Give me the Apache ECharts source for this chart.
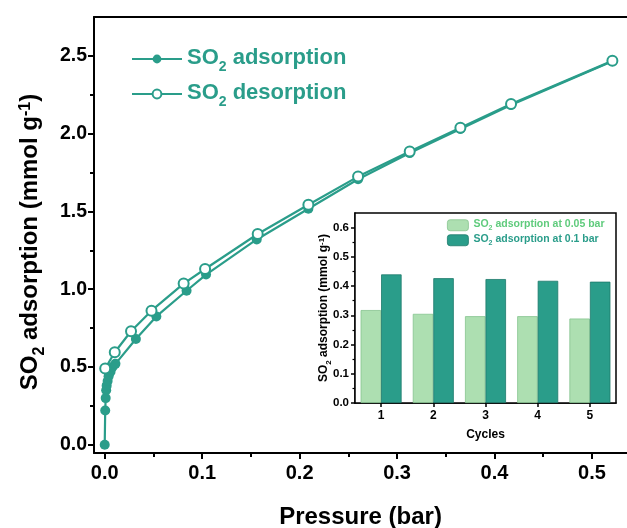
<!DOCTYPE html>
<html>
<head>
<meta charset="utf-8">
<script src="https://cdn.jsdelivr.net/npm/echarts@6/dist/echarts.min.js"></script>
<style>html,body{margin:0;padding:0;background:#fff}#c{width:627px;height:528px}</style>
</head>
<body>
<div id="c"></div>
<script>
// ---- data ----
const pressureAds = [0, 0.0005, 0.001, 0.0015, 0.002, 0.003, 0.004, 0.006, 0.008, 0.011, 0.032, 0.053, 0.084, 0.104, 0.156, 0.209, 0.260, 0.313, 0.365, 0.417, 0.521];
const uptakeAds   = [0, 0.22, 0.30, 0.35, 0.38, 0.41, 0.44, 0.47, 0.50, 0.52, 0.68, 0.825, 0.99, 1.094, 1.32, 1.517, 1.707, 1.875, 2.03, 2.185, 2.465];
const pressureDes = [0.521, 0.417, 0.365, 0.313, 0.260, 0.209, 0.157, 0.103, 0.081, 0.048, 0.027, 0.0103, 0.0005];
const uptakeDes   = [2.468, 2.19, 2.038, 1.885, 1.724, 1.543, 1.355, 1.13, 1.036, 0.862, 0.73, 0.595, 0.49];
const cycles = ['1', '2', '3', '4', '5'];
const bar005 = [0.318, 0.305, 0.297, 0.297, 0.289];
const bar01  = [0.440, 0.427, 0.424, 0.418, 0.415];
const xTicks = [0, 0.1, 0.2, 0.3, 0.4, 0.5];
const xMinorTicks = [0.05, 0.15, 0.25, 0.35, 0.45];
const yTicks = [0, 0.5, 1.0, 1.5, 2.0, 2.5];
const yMinorTicks = [0.25, 0.75, 1.25, 1.75, 2.25];
const insetYTicks = [0, 0.1, 0.2, 0.3, 0.4, 0.5, 0.6];
const insetYMinorTicks = [0.05, 0.15, 0.25, 0.35, 0.45, 0.55];

const TEAL = '#2a9d8a';
const LIGHT = '#addfb1';
const FONT = '"Liberation Sans", Arial, sans-serif';
const mainGrid = {left: 94, top: 17, right: 0, bottom: 75, outerBoundsMode: 'none', containLabel: false};
const insetGrid = {left: 355, top: 213, width: 261, height: 190, outerBoundsMode: 'none', containLabel: false};
const xRange = {min: -0.011, max: 0.536};
const yRange = {min: -0.053, max: 2.75};

const chart = echarts.init(document.getElementById('c'), null, {renderer: 'canvas'});

const subRich = (size, color) => ({
  a: {fontSize: size, fontWeight: 'bold', fontFamily: FONT, color: color, lineHeight: size + 2, verticalAlign: 'top'},
  s: {fontSize: Math.round(size * 0.65), fontWeight: 'bold', fontFamily: FONT, color: color, lineHeight: Math.round(size * 0.7), padding: [Math.round(size * 0.6), 0, 0, 0], verticalAlign: 'top'},
  p: {fontSize: Math.round(size * 0.65), fontWeight: 'bold', fontFamily: FONT, color: color, lineHeight: Math.round(size * 0.7), verticalAlign: 'top'}
});
const insetRich = (() => {
  const g = subRich(10.5, '#5fcb7c'), d = subRich(10.5, TEAL);
  return {ga: g.a, gs: g.s, da: d.a, ds: d.s};
})();

const option = {
  animation: false,
  backgroundColor: '#fff',
  grid: [
    Object.assign({}, mainGrid),
    Object.assign({show: true, borderColor: '#000', borderWidth: 1.5, backgroundColor: '#fff', z: 5}, insetGrid),
    Object.assign({}, mainGrid),
    Object.assign({z: 6}, insetGrid)
  ],
  legend: [
    {
      data: ['SO2 adsorption', 'SO2 desorption'],
      left: 131, top: 47, padding: 0, orient: 'vertical', itemGap: 8,
      itemWidth: 50, itemHeight: 11,
      formatter: n => n === 'SO2 adsorption' ? '{a|SO}{s|2}{a| adsorption}' : '{a|SO}{s|2}{a| desorption}',
      textStyle: {color: TEAL, rich: subRich(22, TEAL)}
    },
    {
      data: ['SO2 adsorption at 0.05 bar', 'SO2 adsorption at 0.1 bar'],
      left: 447, top: 219, padding: 0, orient: 'vertical', itemGap: 2,
      itemWidth: 21, itemHeight: 11, itemStyle: {borderWidth: 0.8}, z: 10,
      formatter: n => n.indexOf('0.05') >= 0 ? '{ga|SO}{gs|2}{ga| adsorption at 0.05 bar}' : '{da|SO}{ds|2}{da| adsorption at 0.1 bar}',
      textStyle: {rich: insetRich}
    }
  ],
  xAxis: [
    {
      gridIndex: 0, type: 'value', position: 'bottom', min: xRange.min, max: xRange.max,
      axisLine: {show: true, onZero: false, lineStyle: {color: '#000', width: 2}},
      axisTick: {show: true, inside: false, length: 6, customValues: xTicks, lineStyle: {color: '#000', width: 2}},
      axisLabel: {customValues: xTicks, formatter: v => v.toFixed(1), fontSize: 20, fontWeight: 'bold', fontFamily: FONT, color: '#000', margin: 10},
      splitLine: {show: false},
      name: 'Pressure (bar)', nameLocation: 'middle', nameGap: 52,
      nameTextStyle: {fontSize: 24, fontWeight: 'bold', fontFamily: FONT, color: '#000'}
    },
    {
      gridIndex: 0, type: 'value', position: 'top', min: xRange.min, max: xRange.max,
      axisLine: {show: true, onZero: false, lineStyle: {color: '#000', width: 2}},
      axisTick: {show: false}, axisLabel: {show: false}, splitLine: {show: false}
    },
    {
      gridIndex: 1, type: 'category', data: cycles, position: 'bottom',
      axisLine: {show: true, lineStyle: {color: '#000', width: 1.5}},
      axisTick: {show: true, alignWithLabel: true, length: 4, lineStyle: {color: '#000', width: 1.5}},
      axisLabel: {fontSize: 12, fontWeight: 'bold', fontFamily: FONT, color: '#000', margin: 7},
      name: 'Cycles', nameLocation: 'middle', nameGap: 26,
      nameTextStyle: {fontSize: 12, fontWeight: 'bold', fontFamily: FONT, color: '#000'}
    },
    {
      gridIndex: 2, type: 'value', position: 'bottom', min: xRange.min, max: xRange.max,
      axisLine: {show: false, onZero: false},
      axisTick: {show: true, inside: false, length: 4, customValues: xMinorTicks, lineStyle: {color: '#000', width: 2}},
      axisLabel: {show: false}, splitLine: {show: false}
    },
    {
      gridIndex: 3, type: 'value', min: 0, max: 1, show: false
    }
  ],
  yAxis: [
    {
      gridIndex: 0, type: 'value', min: yRange.min, max: yRange.max,
      axisLine: {show: true, onZero: false, lineStyle: {color: '#000', width: 2}},
      axisTick: {show: true, inside: false, length: 6, customValues: yTicks, lineStyle: {color: '#000', width: 2}},
      axisLabel: {customValues: yTicks, formatter: v => v.toFixed(1), fontSize: 19.5, fontWeight: 'bold', fontFamily: FONT, color: '#000', margin: 7},
      splitLine: {show: false},
      name: '{a|SO}{s|2}{a| adsorption (mmol g}{p|-1}{a|)}', nameLocation: 'middle', nameGap: 50,
      nameTextStyle: {rich: subRich(24, '#000'), padding: [0, 14, 0, 0]}
    },
    {
      gridIndex: 1, type: 'value', min: 0, max: 0.65,
      axisLine: {show: true, lineStyle: {color: '#000', width: 1.5}},
      axisTick: {show: true, inside: false, length: 4, customValues: insetYTicks, lineStyle: {color: '#000', width: 1.5}},
      axisLabel: {customValues: insetYTicks, formatter: v => v.toFixed(1), fontSize: 11.5, fontWeight: 'bold', fontFamily: FONT, color: '#000', margin: 6},
      splitLine: {show: false},
      name: '{a|SO}{s|2}{a| adsorption (mmol g}{p|-1}{a|)}', nameLocation: 'middle', nameGap: 23, nameMoveOverlap: false,
      nameTextStyle: {rich: subRich(12, '#000')}
    },
    {
      gridIndex: 2, type: 'value', min: yRange.min, max: yRange.max,
      axisLine: {show: false, onZero: false},
      axisTick: {show: true, inside: false, length: 4, customValues: yMinorTicks, lineStyle: {color: '#000', width: 2}},
      axisLabel: {show: false}, splitLine: {show: false}
    },
    {
      gridIndex: 3, type: 'value', min: 0, max: 0.65,
      axisLine: {show: false, onZero: false},
      axisTick: {show: true, inside: false, length: 2.5, customValues: insetYMinorTicks, lineStyle: {color: '#000', width: 1.2}},
      axisLabel: {show: false}, splitLine: {show: false}
    }
  ],
  series: [
    {
      name: 'SO2 adsorption', type: 'line', xAxisIndex: 0, yAxisIndex: 0,
      data: pressureAds.map((p, i) => [p, uptakeAds[i]]),
      symbol: 'circle', symbolSize: 10,
      itemStyle: {color: TEAL},
      lineStyle: {color: TEAL, width: 2.2}, z: 2
    },
    {
      name: 'SO2 desorption', type: 'line', xAxisIndex: 0, yAxisIndex: 0,
      data: pressureDes.map((p, i) => [p, uptakeDes[i]]),
      symbol: 'circle', symbolSize: 10,
      itemStyle: {color: '#fff', borderColor: TEAL, borderWidth: 2},
      lineStyle: {color: TEAL, width: 2.2}, z: 3
    },
    {
      name: 'SO2 adsorption at 0.05 bar', type: 'bar', xAxisIndex: 2, yAxisIndex: 1,
      data: bar005, barWidth: 20.5, barGap: '0%',
      itemStyle: {color: LIGHT, borderColor: '#86c48f', borderWidth: 0.8}, z: 6
    },
    {
      name: 'SO2 adsorption at 0.1 bar', type: 'bar', xAxisIndex: 2, yAxisIndex: 1,
      data: bar01, barWidth: 20.5, barGap: '0%',
      itemStyle: {color: TEAL, borderColor: '#1d7a6b', borderWidth: 0.8}, z: 6
    }
  ]
};
chart.setOption(option);
</script>
</body>
</html>
